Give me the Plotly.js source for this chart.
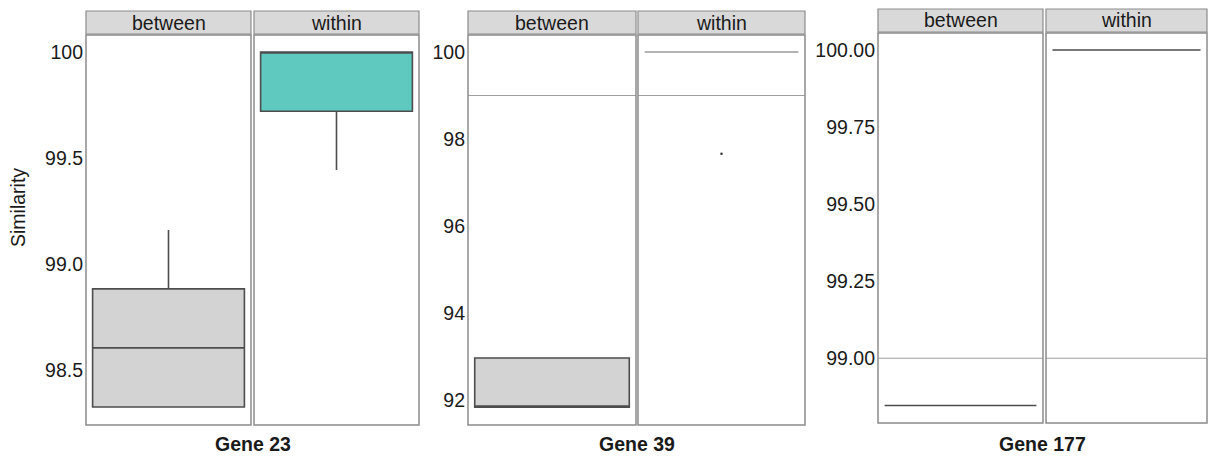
<!DOCTYPE html>
<html><head><meta charset="utf-8">
<script src="https://cdn.plot.ly/plotly-3.0.1.min.js"></script>
<style>html,body{margin:0;padding:0;background:#fff}#chart{width:1208px;height:463px}</style>
</head><body><div id="chart"></div>
<script>
// ---- data ----
const genes = ['Gene 23', 'Gene 39', 'Gene 177'];
const groups = ['between', 'within'];
// box statistics for "between"
const betweenLower = [98.325, 91.84, 98.847];
const betweenQ1 = [98.325, 91.84, 98.847];
const betweenMedian = [98.604, 91.84, 98.847];
const betweenQ3 = [98.882, 92.97, 98.847];
const betweenUpper = [99.16, 92.97, 98.847];
// box statistics for "within"
const withinLower = [99.443, 100, 100];
const withinQ1 = [99.72, 100, 100];
const withinMedian = [100, 100, 100];
const withinQ3 = [100, 100, 100];
const withinUpper = [100, 100, 100];
// outliers (within, Gene 39)
const outlierGene39Within = [97.66];
// reference line value per gene (null = none)
const refLine = [null, 99, 99];
// tick labels
const tickVals = [[98.5, 99, 99.5, 100], [92, 94, 96, 98, 100], [99, 99.25, 99.5, 99.75, 100]];
const tickText = [['98.5', '99.0', '99.5', '100'], ['92', '94', '96', '98', '100'], ['99.00', '99.25', '99.50', '99.75', '100.00']];

// ---- layout geometry (pixels) ----
const W = 1208, H = 463;
const facetX = [[[86, 251], [254, 419]], [[468, 636], [638, 805]], [[878, 1043], [1046, 1207]]];
const plotY = [[35, 425], [35, 425], [33, 423]];
const stripY = [[11, 34], [11, 34], [9, 32]];
const yRanges = [[98.24, 100.08], [91.43, 100.39], [98.79, 100.055]];
const betweenFill = ['#d3d3d3', '#d3d3d3', '#d3d3d3'];
const withinFill = ['#5fc9bf', '#d3d3d3', '#d3d3d3'];
const betweenLine = ['#4d4d4d', '#4d4d4d', '#4d4d4d'];
const withinLine = ['#4d4d4d', '#9a9a9a', '#4d4d4d'];

const fx = p => p / W, fy = p => 1 - p / H;
const font = 'Liberation Sans, Arial, sans-serif';
const FS = 19.5;
const traces = [], shapes = [], annotations = [];
const layout = {
  width: W, height: H, margin: {l: 0, r: 0, t: 0, b: 0},
  paper_bgcolor: '#fff', plot_bgcolor: '#fff', showlegend: false,
  font: {family: font, color: '#1a1a1a'}
};

genes.forEach((g, gi) => {
  const yName = gi === 0 ? 'y' : 'y' + (gi + 1);
  const yKey = gi === 0 ? 'yaxis' : 'yaxis' + (gi + 1);
  layout[yKey] = {
    domain: [fy(plotY[gi][1]), fy(plotY[gi][0])],
    range: yRanges[gi], anchor: 'x' + (gi * 2 + 1 === 1 ? '' : gi * 2 + 1),
    showgrid: false, zeroline: false, showline: false, ticks: '',
    tickvals: tickVals[gi], ticktext: tickText[gi],
    tickfont: {size: FS, color: '#1a1a1a', family: font}, ticklabelstandoff: 2
  };
  groups.forEach((grp, k) => {
    const idx = gi * 2 + k + 1;
    const xName = idx === 1 ? 'x' : 'x' + idx;
    const xKey = idx === 1 ? 'xaxis' : 'xaxis' + idx;
    layout[xKey] = {
      domain: [fx(facetX[gi][k][0]), fx(facetX[gi][k][1])],
      anchor: yName, type: 'category', range: [-0.5, 0.5],
      showgrid: false, zeroline: false, showline: false,
      showticklabels: false, ticks: ''
    };
    const isB = k === 0;
    traces.push({
      type: 'box', xaxis: xName, yaxis: yName, x: [grp],
      lowerfence: [isB ? betweenLower[gi] : withinLower[gi]],
      q1: [isB ? betweenQ1[gi] : withinQ1[gi]],
      median: [isB ? betweenMedian[gi] : withinMedian[gi]],
      q3: [isB ? betweenQ3[gi] : withinQ3[gi]],
      upperfence: [isB ? betweenUpper[gi] : withinUpper[gi]],
      width: 0.92, whiskerwidth: 0,
      fillcolor: isB ? betweenFill[gi] : withinFill[gi],
      line: {color: isB ? betweenLine[gi] : withinLine[gi], width: 1.6},
      hoverinfo: 'skip'
    });
    // panel border
    shapes.push({type: 'rect', xref: xName + ' domain', yref: yName + ' domain',
      x0: 0, x1: 1, y0: 0, y1: 1, line: {color: '#8c8c8c', width: 1.5}, layer: 'above'});
    if (refLine[gi] !== null) {
      shapes.push({type: 'line', xref: xName + ' domain', yref: yName,
        x0: 0, x1: 1, y0: refLine[gi], y1: refLine[gi], line: {color: '#a0a0a0', width: 1.2}, layer: 'below'});
    }
    // strip
    shapes.push({type: 'rect', xref: 'paper', yref: 'paper',
      x0: fx(facetX[gi][k][0]), x1: fx(facetX[gi][k][1]),
      y0: fy(stripY[gi][1]), y1: fy(stripY[gi][0]),
      fillcolor: '#d9d9d9', line: {color: '#8c8c8c', width: 1.2}});
    annotations.push({xref: 'paper', yref: 'paper', showarrow: false,
      x: fx((facetX[gi][k][0] + facetX[gi][k][1]) / 2), y: fy((stripY[gi][0] + stripY[gi][1]) / 2),
      text: grp, font: {size: FS, color: '#1a1a1a', family: font}, xanchor: 'center', yanchor: 'middle'});
  });
  // gene title
  annotations.push({xref: 'paper', yref: 'paper', showarrow: false,
    x: fx((facetX[gi][0][0] + facetX[gi][1][1]) / 2), y: fy(444),
    text: '<b>' + g + '</b>', font: {size: FS, color: '#1a1a1a', family: font},
    xanchor: 'center', yanchor: 'middle'});
});

// outlier for Gene 39 within
traces.push({type: 'scatter', mode: 'markers', xaxis: 'x4', yaxis: 'y2',
  x: outlierGene39Within.map(() => groups[1]), y: outlierGene39Within,
  marker: {size: 2.5, color: '#333'}, hoverinfo: 'skip'});

annotations.push({xref: 'paper', yref: 'paper', showarrow: false,
  x: fx(18), y: fy(208), text: 'Similarity', textangle: -90,
  font: {size: FS, color: '#1a1a1a', family: font}, xanchor: 'center', yanchor: 'middle'});

layout.shapes = shapes;
layout.annotations = annotations;
Plotly.newPlot('chart', traces, layout, {staticPlot: true, displayModeBar: false});
</script></body></html>
